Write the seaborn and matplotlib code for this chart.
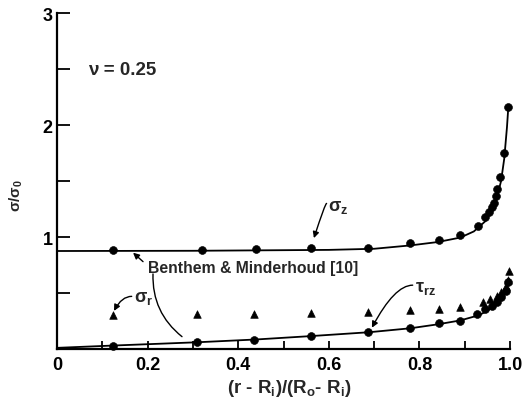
import matplotlib
matplotlib.use("Agg")
import matplotlib.pyplot as plt
import seaborn as sns

# present solution, sigma_z (circles)
sz_x = [0.124, 0.32, 0.44, 0.56, 0.687, 0.779, 0.843, 0.89, 0.929, 0.945, 0.954, 0.96, 0.965, 0.969, 0.971, 0.978, 0.987, 0.995]
sz_y = [0.88, 0.885, 0.89, 0.9, 0.9, 0.95, 0.97, 1.02, 1.10, 1.18, 1.22, 1.27, 1.30, 1.37, 1.43, 1.54, 1.75, 2.16]

# tau_rz (circles)
tz_x = [0.124, 0.31, 0.435, 0.56, 0.687, 0.78, 0.843, 0.89, 0.927, 0.945, 0.96, 0.97, 0.98, 0.99, 0.995]
tz_y = [0.03, 0.06, 0.08, 0.115, 0.15, 0.19, 0.23, 0.25, 0.31, 0.36, 0.38, 0.42, 0.46, 0.52, 0.60]

# sigma_r (triangles)
sr_x = [0.124, 0.31, 0.435, 0.56, 0.687, 0.78, 0.843, 0.89, 0.94, 0.955, 0.97, 0.98, 0.99, 0.995, 0.997]
sr_y = [0.30, 0.31, 0.31, 0.32, 0.33, 0.35, 0.36, 0.375, 0.42, 0.45, 0.47, 0.51, 0.56, 0.62, 0.70]

# Benthem & Minderhoud curves
bz_x = [0, 0.3, 0.6, 0.7, 0.78, 0.84, 0.89, 0.92, 0.945, 0.96, 0.97, 0.98, 0.987, 0.993, 0.996]
bz_y = [0.875, 0.877, 0.885, 0.895, 0.925, 0.955, 0.995, 1.05, 1.14, 1.24, 1.34, 1.5, 1.7, 1.98, 2.16]
bt_x = [0, 0.12, 0.31, 0.44, 0.56, 0.69, 0.78, 0.84, 0.89, 0.93, 0.95, 0.97, 0.98, 0.99, 0.998]
bt_y = [0.01, 0.03, 0.06, 0.085, 0.115, 0.15, 0.185, 0.22, 0.255, 0.3, 0.34, 0.4, 0.45, 0.52, 0.62]

x_ticks = [0, 0.2, 0.4, 0.6, 0.8, 1.0]
x_labels = ["0", "0.2", "0.4", "0.6", "0.8", "1.0"]
y_ticks = [1, 2, 3]
y_labels = ["1", "2", "3"]

sns.set_style("ticks")
plt.rcParams["font.family"] = ["Liberation Sans", "DejaVu Sans"]
plt.rcParams["font.weight"] = "bold"
plt.rcParams["mathtext.fontset"] = "custom"
plt.rcParams["mathtext.rm"] = "Liberation Sans:bold"
plt.rcParams["mathtext.it"] = "Liberation Sans:bold"
plt.rcParams["mathtext.bf"] = "Liberation Sans:bold"
plt.rcParams["mathtext.default"] = "bf"

fig = plt.figure(figsize=(5.27, 4.02), dpi=100)
ax = fig.add_axes([0.108, 0.1294, 0.86, 0.8356])

sns.lineplot(x=bz_x, y=bz_y, color="black", lw=1.3, ax=ax)
sns.lineplot(x=bt_x, y=bt_y, color="black", lw=1.3, ax=ax)
sns.scatterplot(x=sz_x, y=sz_y, color="black", marker="o", s=32, edgecolor="black", ax=ax, clip_on=False)
sns.scatterplot(x=tz_x, y=tz_y, color="black", marker="o", s=32, edgecolor="black", ax=ax, clip_on=False)
sns.scatterplot(x=sr_x, y=sr_y, color="black", marker="^", s=30, edgecolor="black", ax=ax, clip_on=False)

ax.set_xlim(0, 1.0)
ax.set_ylim(0, 3)
sns.despine(ax=ax)
for s in ["left", "bottom"]:
    ax.spines[s].set_linewidth(1.6)
    ax.spines[s].set_color("black")

ax.set_xticks(x_ticks)
ax.set_xticklabels(x_labels, fontsize=13, fontweight="bold")
ax.set_xticks([0.1, 0.3, 0.5, 0.7, 0.9], minor=True)
ax.set_yticks(y_ticks)
ax.set_yticklabels(y_labels, fontsize=13, fontweight="bold")
ax.set_yticks([0.5, 1.5, 2.5], minor=True)
ax.tick_params(axis="x", which="both", bottom=True, direction="in", length=6, width=1.3, pad=5, colors="black")
ax.tick_params(axis="y", which="both", left=True, direction="in", length=9, width=1.3, pad=3, colors="black")

ax.set_xlabel(r"(r - R$_\mathbf{i}$)/(R$_\mathbf{o}$- R$_\mathbf{i}$)", fontsize=13.5, fontweight="bold")
ax.xaxis.set_label_coords(0.513, -0.084)
ax.set_ylabel(r"σ/σ$_\mathbf{0}$", fontsize=11, fontweight="bold")
ax.yaxis.set_label_coords(-0.07, 0.46)

ax.text(0.068, 2.5, "ν = 0.25", fontsize=13.5, fontweight="bold", va="center")
ax.text(0.2, 0.73, "Benthem & Minderhoud [10]", fontsize=11.3, fontweight="heavy", va="center")
ax.text(0.598, 1.27, r"σ$_\mathbf{z}$", fontsize=13, fontweight="bold", va="center")
ax.text(0.17, 0.46, r"σ$_\mathbf{r}$", fontsize=13, fontweight="bold", va="center")
ax.text(0.79, 0.55, r"τ$_\mathbf{rz}$", fontsize=13, fontweight="bold", va="center")

arrow = dict(arrowstyle="-|>", color="black", lw=1.0, mutation_scale=9, shrinkA=0, shrinkB=0)
ax.annotate("", xy=(0.567, 0.99), xytext=(0.595, 1.3),
            arrowprops=dict(arrow, connectionstyle="angle3,angleA=0,angleB=72"))
ax.annotate("", xy=(0.168, 0.86), xytext=(0.19, 0.78), arrowprops=arrow)
ax.annotate("", xy=(0.276, 0.11), xytext=(0.212, 0.67),
            arrowprops=dict(arrowstyle="-", color="black", lw=1.0, shrinkA=0, shrinkB=0,
                            connectionstyle="arc3,rad=0.25"))
ax.annotate("", xy=(0.126, 0.34), xytext=(0.165, 0.47),
            arrowprops=dict(arrow, connectionstyle="angle3,angleA=0,angleB=62"))
ax.annotate("", xy=(0.695, 0.19), xytext=(0.785, 0.57),
            arrowprops=dict(arrow, connectionstyle="angle3,angleA=0,angleB=62"))

fig.savefig("out.png", dpi=100)
